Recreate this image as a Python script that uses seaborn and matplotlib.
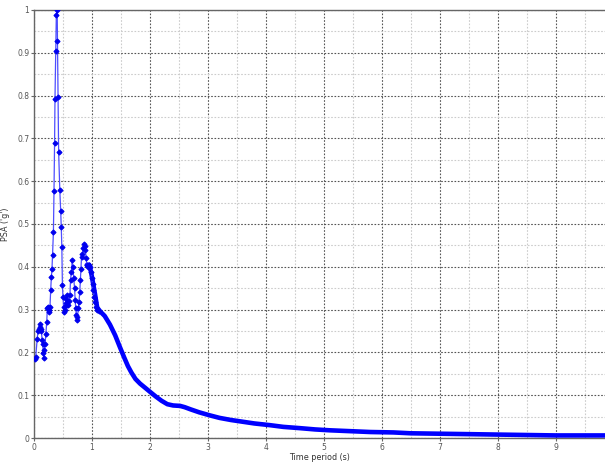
import numpy as np
import pandas as pd
import seaborn as sns
import matplotlib.pyplot as plt
from matplotlib.ticker import MultipleLocator, FuncFormatter

# Response spectrum: spiky short-period part (with markers)
peak_period = [0.015, 0.03, 0.055, 0.07, 0.08, 0.095, 0.105, 0.115, 0.125, 0.14,
               0.15, 0.16, 0.17, 0.18, 0.19, 0.205, 0.22, 0.23, 0.245, 0.255,
               0.265, 0.275, 0.288, 0.30, 0.31, 0.32, 0.335, 0.345, 0.355, 0.362,
               0.375, 0.385, 0.40, 0.405, 0.415, 0.425, 0.445, 0.46, 0.47, 0.48,
               0.49, 0.50, 0.51, 0.52, 0.53, 0.545, 0.555, 0.565, 0.575, 0.59,
               0.60, 0.62, 0.63, 0.645, 0.66, 0.67, 0.685, 0.70, 0.71, 0.72,
               0.73, 0.74, 0.75, 0.765, 0.775, 0.79, 0.80, 0.81, 0.82, 0.835,
               0.85, 0.862, 0.875, 0.885, 0.90, 0.91, 0.93, 0.95, 0.965, 0.98,
               1.0, 1.01, 1.02, 1.04, 1.05, 1.07, 1.09, 1.12]
peak_psa = [0.185, 0.19, 0.232, 0.25, 0.255, 0.26, 0.267, 0.25, 0.255, 0.228,
            0.22, 0.198, 0.188, 0.205, 0.22, 0.243, 0.272, 0.303, 0.305, 0.30,
            0.295, 0.305, 0.346, 0.377, 0.395, 0.428, 0.482, 0.578, 0.69, 0.791,
            0.904, 0.988, 1.0, 0.928, 0.796, 0.669, 0.58, 0.531, 0.494, 0.447,
            0.357, 0.33, 0.306, 0.295, 0.30, 0.315, 0.325, 0.335, 0.31, 0.31,
            0.32, 0.335, 0.37, 0.389, 0.416, 0.40, 0.373, 0.35, 0.322, 0.303,
            0.287, 0.276, 0.283, 0.303, 0.318, 0.342, 0.369, 0.396, 0.424, 0.43,
            0.443, 0.453, 0.448, 0.44, 0.42, 0.404, 0.40, 0.405, 0.40, 0.389,
            0.375, 0.36, 0.345, 0.33, 0.318, 0.305, 0.30, 0.297]

# Long-period tail (densely sampled in the original, shows as a thick band)
tail_period = [0.91, 0.95, 0.98, 1.0, 1.05, 1.09, 1.14, 1.22, 1.31, 1.40,
               1.48, 1.55, 1.62, 1.68, 1.75, 1.83, 1.92, 2.0, 2.1, 2.2,
               2.3, 2.4, 2.52, 2.6, 2.7, 2.85, 3.03, 3.2, 3.4, 3.55,
               3.8, 4.07, 4.3, 4.59, 4.85, 5.1, 5.45, 5.8, 6.2, 6.5,
               7.0, 7.5, 8.0, 8.5, 9.0, 9.5, 9.85]
tail_psa = [0.404, 0.405, 0.39, 0.376, 0.338, 0.305, 0.296, 0.285, 0.265, 0.24,
            0.213, 0.19, 0.168, 0.153, 0.138, 0.127, 0.117, 0.108, 0.097, 0.087,
            0.079, 0.076, 0.075, 0.072, 0.067, 0.06, 0.053, 0.047, 0.042, 0.039,
            0.034, 0.030, 0.026, 0.023, 0.020, 0.018, 0.016, 0.014, 0.013, 0.011,
            0.010, 0.009, 0.008, 0.007, 0.006, 0.006, 0.006]

peak = pd.DataFrame({'T': peak_period, 'PSA': peak_psa})
tail = pd.DataFrame({'T': tail_period, 'PSA': tail_psa})

sns.set_style("white")
plt.rcParams['font.family'] = ['DejaVu Sans']

fig = plt.figure(figsize=(6.05, 4.62), dpi=100)
ax = fig.add_axes([34 / 605, 1 - 438 / 462, 1 - 34 / 605, 428 / 462])

sns.lineplot(data=tail, x='T', y='PSA', ax=ax, color='#0000ff', linewidth=3.3,
             estimator=None, sort=False, zorder=3)
sns.lineplot(data=peak, x='T', y='PSA', ax=ax, color='#4d4dff', linewidth=0.9,
             marker='D', markersize=2.6, markerfacecolor='#0000ee',
             markeredgecolor='#0000ee', estimator=None, sort=False, zorder=4)

ax.set_xlim(0, 9.85)
ax.set_ylim(0, 1)
ax.xaxis.set_major_locator(MultipleLocator(1))
ax.xaxis.set_minor_locator(MultipleLocator(0.5))
ax.yaxis.set_major_locator(MultipleLocator(0.1))
ax.yaxis.set_minor_locator(MultipleLocator(0.05))
ax.yaxis.set_major_formatter(FuncFormatter(lambda v, p: f"{v:.1f}".rstrip('0').rstrip('.') if v else '0'))
ax.xaxis.set_major_formatter(FuncFormatter(lambda v, p: f"{v:g}"))

ax.grid(which='major', color='#555555', linestyle=(0, (1.5, 1.5)), linewidth=0.8)
ax.grid(which='minor', color='#cccccc', linestyle=(0, (1.5, 1.5)), linewidth=0.8)
ax.set_axisbelow(True)

for side in ['left', 'bottom', 'top']:
    ax.spines[side].set_color('#666666')
    ax.spines[side].set_linewidth(1.0)
ax.spines['right'].set_visible(False)

ax.tick_params(which='major', axis='both', length=2, width=0.8, color='#666666',
               labelsize=5.5, labelcolor='#555555', pad=1.5, left=True, bottom=True)
ax.tick_params(which='minor', length=0, left=False, bottom=False)

ax.set_xlabel("Time period (s)", fontsize=5.8, color='#333333')
ax.set_ylabel("PSA ('g')", fontsize=5.8, color='#333333')
ax.xaxis.set_label_coords(0.5, -0.034, transform=ax.transAxes)
ax.yaxis.set_label_coords(-0.042, 0.5, transform=ax.transAxes)

fig.savefig("out.png", dpi=100)
